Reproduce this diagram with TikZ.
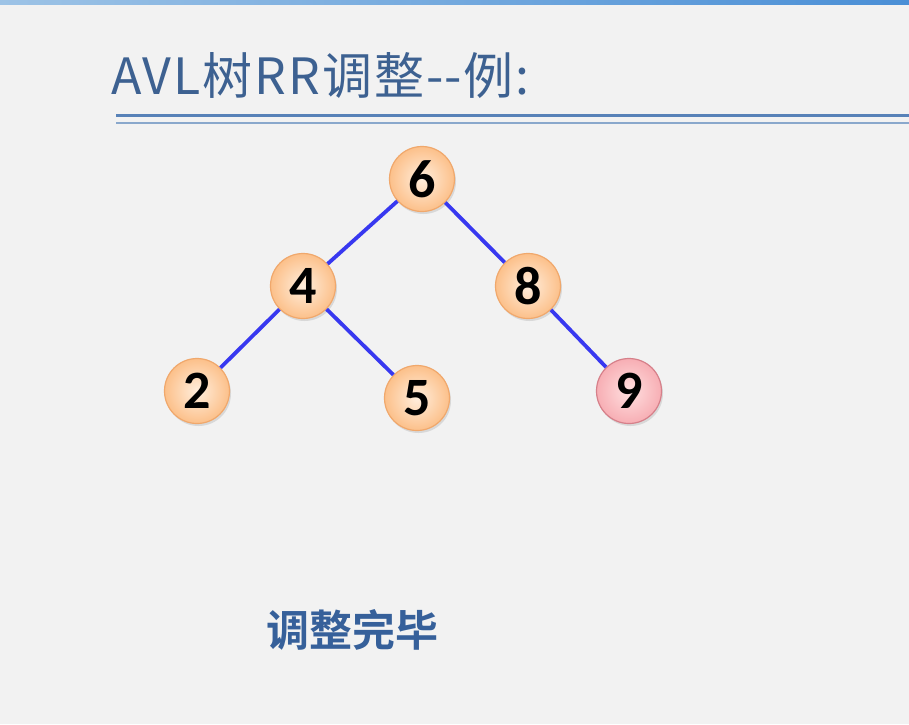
\documentclass[tikz,border=0pt]{standalone}
\usepackage{fontspec}
\setmainfont{Carlito}
\newfontfamily\cjk[LetterSpace=4]{Noto Sans CJK SC}
\newfontfamily\cjkb{Noto Sans CJK SC Bold}
\usetikzlibrary{shadows}
\definecolor{bg}{HTML}{F2F2F2}
\definecolor{titlec}{HTML}{3D6191}
\definecolor{boldc}{HTML}{36609A}
\definecolor{edgec}{HTML}{3838F0}
\definecolor{orin}{HTML}{FFEEDD}
\definecolor{orout}{HTML}{FCC08A}
\definecolor{orbd}{HTML}{F0A86C}
\definecolor{rdin}{HTML}{FFE0E0}
\definecolor{rdout}{HTML}{F7AEB4}
\definecolor{rdbd}{HTML}{D6808A}
\definecolor{barA}{HTML}{9DC3E6}
\definecolor{barB}{HTML}{4A8FD6}
\definecolor{lineA}{HTML}{5882B8}
\definecolor{lineB}{HTML}{8AA8CC}
\tikzset{
  treenode/.style={circle, minimum size=65pt, inner sep=0pt, draw=orbd, line width=1.2pt,
    inner color=orin, outer color=orout,
    drop shadow={shadow xshift=1.5pt, shadow yshift=-2.5pt, fill=black!25, opacity=0.5},
    font=\fontsize{54}{54}\selectfont\bfseries},
  rednode/.style={treenode, draw=rdbd, inner color=rdin, outer color=rdout},
  edge/.style={draw=edgec, line width=3.8pt}
}
\begin{document}
\begin{tikzpicture}[x=1pt,y=-1pt]
\useasboundingbox (0,0) rectangle (909,724);
\fill[bg] (0,0) rectangle (909,724);
\shade[left color=barA, right color=barB] (0,0) rectangle (909,4);
\draw[lineA, line width=2.6pt] (116,115.5) -- (909,115.5);
\draw[lineB, line width=1.4pt] (116,123) -- (909,123);
\node[anchor=base west, text=titlec, inner sep=0pt, font=\cjk\fontsize{50}{50}\selectfont] (title) at (111,94) {AVL树RR调整-\kern1pt-例:};
\node[treenode] (n6) at (422,179) {6};
\node[treenode] (n4) at (303,286) {4};
\node[treenode] (n8) at (528,286) {8};
\node[treenode] (n2) at (197,391) {2};
\node[treenode] (n5) at (417,398) {5};
\node[rednode] (n9) at (629,391) {9};
\draw[edge] (n6) -- (n4);
\draw[edge] (n6) -- (n8);
\draw[edge] (n4) -- (n2);
\draw[edge] (n4) -- (n5);
\draw[edge] (n8) -- (n9);
\node[anchor=base west, text=boldc, inner sep=0pt, font=\cjkb\fontsize{43}{43}\selectfont] (done) at (266,646) {调整完毕};
\end{tikzpicture}
\end{document}
